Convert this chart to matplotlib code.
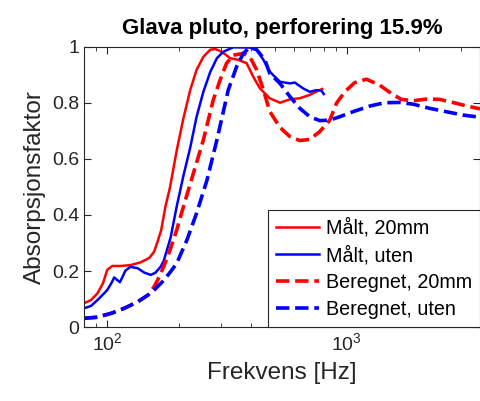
import numpy as np
import matplotlib.pyplot as plt
from matplotlib.ticker import LogLocator, NullFormatter

plt.rcParams['font.family'] = ['Liberation Sans', 'DejaVu Sans']

# measured, 20mm air gap
f_malt_20 = [80, 85.5, 91, 96, 100, 105, 114, 125, 138, 150, 157, 163, 168, 175, 183,
             195, 208, 222, 236, 252, 269, 282, 301, 326, 353, 382, 407, 434, 477,
             526, 579, 637, 701, 760, 790]
a_malt_20 = [0.085, 0.096, 0.12, 0.156, 0.204, 0.218, 0.218, 0.221, 0.231, 0.247,
             0.269, 0.31, 0.346, 0.43, 0.50, 0.63, 0.745, 0.846, 0.918, 0.965, 0.99,
             0.993, 0.983, 0.96, 0.954, 0.942, 0.894, 0.852, 0.817, 0.801, 0.813,
             0.817, 0.829, 0.844, 0.85]

# measured, without air gap
f_malt_uten = [80, 85.5, 91, 97, 100, 104, 107, 110, 113, 116, 119, 125, 134, 143, 152,
               159, 167, 172, 184, 195, 208, 222, 236, 252, 269, 287, 305, 336, 394,
               421, 449, 477, 526, 579, 607, 658, 701, 748, 784, 802]
a_malt_uten = [0.067, 0.075, 0.096, 0.12, 0.132, 0.156, 0.177, 0.168, 0.16, 0.18, 0.201,
               0.215, 0.21, 0.194, 0.186, 0.194, 0.215, 0.235, 0.32, 0.43, 0.54,
               0.64, 0.75, 0.84, 0.91, 0.96, 0.983, 0.999, 0.998, 0.99, 0.954,
               0.912, 0.876, 0.87, 0.873, 0.852, 0.84, 0.846, 0.844, 0.832]

# calculated, 20mm
f_ber_20 = [80, 91, 104, 118, 134, 148, 157, 164, 172, 183, 195, 208, 229, 252, 277,
            296, 315, 336, 370, 394, 421, 449, 477, 526, 579, 637, 701, 772, 850, 906,
            981, 1080, 1208, 1372, 1535, 1690, 1889, 2147, 2440, 2773, 3151, 3600]
a_ber_20 = [0.031, 0.035, 0.049, 0.067, 0.09, 0.114, 0.144, 0.175, 0.215, 0.275, 0.346,
            0.43, 0.549, 0.668, 0.81, 0.882, 0.942, 0.971, 0.977, 0.965, 0.918, 0.846,
            0.77, 0.713, 0.68, 0.666, 0.67, 0.698, 0.739, 0.799, 0.84, 0.873, 0.885,
            0.864, 0.834, 0.813, 0.808, 0.814, 0.813, 0.802, 0.79, 0.779]

# calculated, without
f_ber_uten = [80, 91, 104, 118, 134, 148, 157, 173, 184, 195, 215, 236, 261, 287, 320,
              347, 370, 394, 421, 455, 477, 526, 579, 637, 701, 772, 850, 935,
              1063, 1247, 1440, 1662, 1889, 2216, 2602, 3055, 3600]
a_ber_uten = [0.031, 0.035, 0.049, 0.067, 0.09, 0.114, 0.132, 0.168, 0.198, 0.227,
              0.31, 0.406, 0.525, 0.668, 0.846, 0.93, 0.977, 0.999, 0.99, 0.954,
              0.906, 0.87, 0.823, 0.781, 0.751, 0.737, 0.739, 0.751, 0.769, 0.789,
              0.801, 0.802, 0.796, 0.781, 0.769, 0.757, 0.749]

fig = plt.figure(figsize=(4.81, 4.01), dpi=100)
ax = fig.add_axes([84 / 481, 74 / 401, 396 / 481, 280 / 401])

ax.semilogx(f_malt_20, a_malt_20, '-', color='r', lw=1.8, label='Målt, 20mm')
ax.semilogx(f_malt_uten, a_malt_uten, '-', color='b', lw=1.8, label='Målt, uten')
ax.semilogx(f_ber_20, a_ber_20, '--', color='r', lw=2.6, label='Beregnet, 20mm')
ax.semilogx(f_ber_uten, a_ber_uten, '--', color='b', lw=2.6, label='Beregnet, uten')

ax.set_xlim(80, 3600)
ax.set_ylim(0, 1)
ax.set_yticks([0, 0.2, 0.4, 0.6, 0.8, 1])
ax.set_yticklabels(['0', '0.2', '0.4', '0.6', '0.8', '1'])
ax.xaxis.set_minor_locator(LogLocator(base=10, subs=np.arange(2, 10)))
ax.xaxis.set_minor_formatter(NullFormatter())
ax.tick_params(which='both', direction='in', top=True, right=True, labelsize=14,
               colors='#262626', labelcolor='#262626')
ax.tick_params(which='major', length=5)
ax.tick_params(which='minor', length=3)
for s in ax.spines.values():
    s.set_color('#262626')
    s.set_linewidth(0.8)

ax.set_xlabel('Frekvens [Hz]', fontsize=17.5, color='#262626', labelpad=6)
ax.set_ylabel('Absorpsjonsfaktor', fontsize=17.5, color='#262626', labelpad=4)
ax.set_title('Glava pluto, perforering 15.9%', fontsize=16, fontweight='bold', pad=9)

leg = ax.legend(loc='lower right', fontsize=14.2, borderaxespad=0, fancybox=False,
                handlelength=2.2, handletextpad=0.35, labelspacing=0.4,
                borderpad=0.4)
leg.get_frame().set_edgecolor('#262626')
leg.get_frame().set_linewidth(0.8)
leg.get_frame().set_alpha(1)

plt.savefig('out.png', dpi=100)
